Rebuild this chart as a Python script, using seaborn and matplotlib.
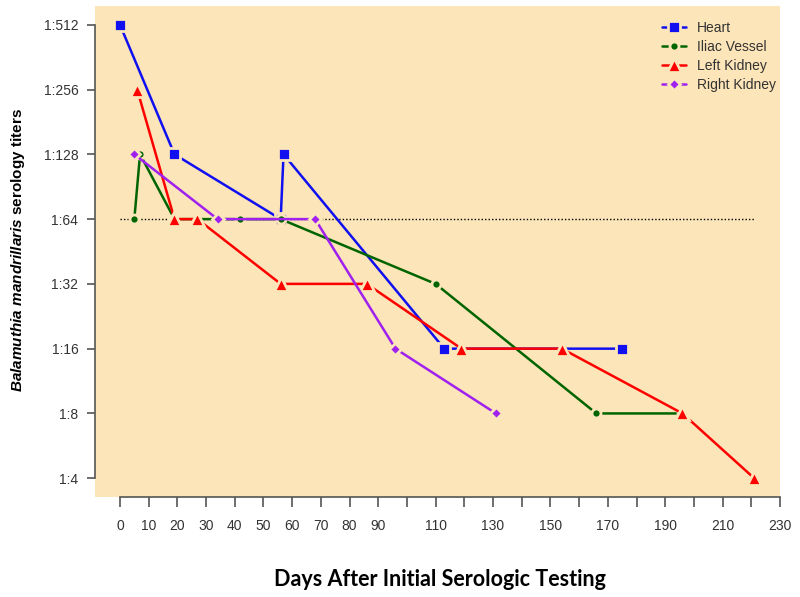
import pandas as pd
import matplotlib
matplotlib.use('Agg')
import matplotlib.pyplot as plt
import seaborn as sns

# ---------------- data ----------------
heart_days = [0, 19, 56, 57, 113, 175]
heart_titer = [512, 128, 64, 128, 16, 16]

iliac_days = [5, 7, 19, 42, 56, 110, 166, 196]
iliac_titer = [64, 128, 64, 64, 64, 32, 8, 8]

lkid_days = [6, 19, 27, 56, 86, 119, 154, 196, 221]
lkid_titer = [256, 64, 64, 32, 32, 16, 16, 8, 4]

rkid_days = [5, 34, 68, 96, 131]
rkid_titer = [128, 64, 64, 16, 8]

series_names = ['Heart', 'Iliac Vessel', 'Left Kidney', 'Right Kidney']
titer_ticks = [4, 8, 16, 32, 64, 128, 256, 512]
titer_labels = ['1:4', '1:8', '1:16', '1:32', '1:64', '1:128', '1:256', '1:512']
day_ticks = list(range(0, 231, 10))
day_labels = [str(d) if (d < 100 or d % 20 == 10) else '' for d in day_ticks]

cutoff_titer = 64
cutoff_span = (0, 221)

# ---------------- styling ----------------
sns.set_theme(style='ticks')
plt.rcParams['font.family'] = ['Liberation Sans', 'DejaVu Sans']
plt.rcParams['mathtext.fontset'] = 'custom'
plt.rcParams['mathtext.rm'] = 'Liberation Sans:bold'
plt.rcParams['mathtext.bfit'] = 'Liberation Sans:italic:bold'
plt.rcParams['mathtext.it'] = 'Liberation Sans:italic:bold'

panel_bg = '#FCE5B8'
axis_col = '#555555'
text_col = '#333333'
colors = {'Heart': '#1010F0', 'Iliac Vessel': '#006400',
          'Left Kidney': '#FF0000', 'Right Kidney': '#A020F0'}
markers = {'Heart': 's', 'Iliac Vessel': 'o',
           'Left Kidney': '^', 'Right Kidney': 'D'}
msizes = {'Heart': 8.0, 'Iliac Vessel': 6.5, 'Left Kidney': 9.5, 'Right Kidney': 6.0}

df = pd.concat([
    pd.DataFrame({'day': heart_days, 'titer': heart_titer, 'site': 'Heart'}),
    pd.DataFrame({'day': iliac_days, 'titer': iliac_titer, 'site': 'Iliac Vessel'}),
    pd.DataFrame({'day': lkid_days, 'titer': lkid_titer, 'site': 'Left Kidney'}),
    pd.DataFrame({'day': rkid_days, 'titer': rkid_titer, 'site': 'Right Kidney'}),
], ignore_index=True)

fig = plt.figure(figsize=(8, 5.97), dpi=100)
fig.patch.set_facecolor('white')
ax = fig.add_axes([95 / 800, 100 / 597, 685 / 800, 491 / 597])
ax.set_facecolor(panel_bg)

ax.hlines(cutoff_titer, *cutoff_span, colors='black', linestyles=(0, (1, 1.5)),
          linewidth=1.0, zorder=1)

for name in series_names:
    sub = df[df['site'] == name]
    sns.lineplot(data=sub, x='day', y='titer', ax=ax, color=colors[name],
                 estimator=None, sort=False, linewidth=1.8, label=name,
                 marker=markers[name], markersize=msizes[name],
                 markeredgecolor=panel_bg, markeredgewidth=2.0, zorder=3)

ax.set_yscale('log', base=2)
ax.set_ylim(2 ** (1.71), 2 ** (9.29))
ax.set_xlim(-8.7, 230)

ax.set_yticks(titer_ticks)
ax.set_yticklabels(titer_labels)
ax.minorticks_off()
ax.set_xticks(day_ticks)
ax.set_xticklabels(day_labels)

for s in ['top', 'right']:
    ax.spines[s].set_visible(False)
ax.spines['left'].set_bounds(4, 512)
ax.spines['bottom'].set_bounds(0, 230)
for s in ['left', 'bottom']:
    ax.spines[s].set_color(axis_col)
    ax.spines[s].set_linewidth(1.2)

ax.tick_params(axis='y', length=6, width=1.2, color=axis_col, pad=6,
               labelsize=10, labelcolor=text_col)
ax.tick_params(axis='x', length=7, width=1.2, color=axis_col, pad=9,
               labelsize=10, labelcolor=text_col)
ax.grid(False)

ax.set_xlabel('Days After Initial Serologic Testing', fontsize=15.5,
              fontweight='bold', family=['Lato', 'DejaVu Sans'], color='black',
              va='center')
ax.xaxis.set_label_coords(0.504, -0.169)
ax.set_ylabel(r'$\mathbfit{Balamuthia\ mandrillaris}$ serology titers',
              fontsize=11, fontweight='bold', color='black', va='center')
ax.yaxis.set_label_coords(-0.112, 0.503)

handles, labels = ax.get_legend_handles_labels()
ax.legend(handles, labels, loc='upper right', bbox_to_anchor=(1.012, 0.995),
          frameon=False, fontsize=10, handlelength=1.7, handletextpad=0.8,
          labelspacing=0.35, labelcolor=text_col)

plt.savefig('out.png', dpi=100)
